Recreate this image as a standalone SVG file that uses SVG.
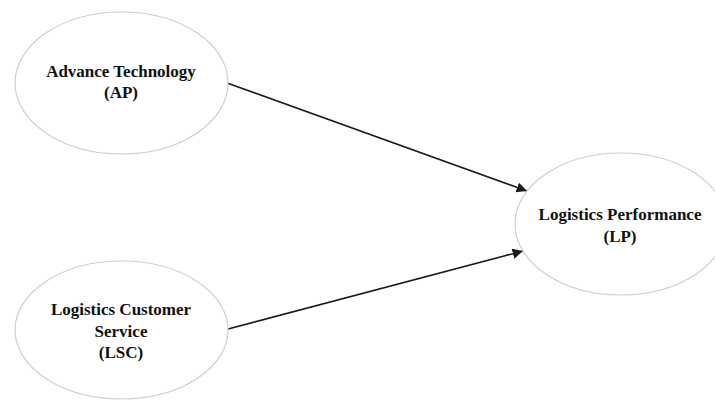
<svg xmlns="http://www.w3.org/2000/svg" width="715" height="400" viewBox="0 0 715 400">
<defs>
<style>
.node ellipse{fill:#fff;stroke:#cfcfcf;stroke-width:1.2}
.node text{font-family:"Liberation Serif","Times New Roman",serif;font-weight:bold;font-size:17px;fill:#111;text-anchor:middle}
.edge{stroke:#1a1a1a;stroke-width:1.6;fill:none;marker-end:url(#arr)}
</style>
<marker id="arr" viewBox="0 0 10 10" refX="10" refY="5" markerWidth="6.5" markerHeight="6.5" orient="auto" markerUnits="strokeWidth">
<path d="M0,0 L10,5 L0,10 Z" fill="#1a1a1a"/>
</marker>
</defs>
<rect width="715" height="400" fill="#fff"/>
<g id="connectors">
<line class="edge" x1="227" y1="83" x2="527" y2="191"/>
<line class="edge" x1="228" y1="329" x2="523" y2="251"/>
</g>
<g id="node-ap" class="node">
<ellipse cx="121.5" cy="83" rx="106.5" ry="71"/>
<text x="121" y="77">Advance Technology</text>
<text x="121" y="98">(AP)</text>
</g>
<g id="node-lsc" class="node">
<ellipse cx="121.5" cy="330" rx="106.5" ry="69"/>
<text x="121" y="315">Logistics Customer</text>
<text x="121" y="337">Service</text>
<text x="121" y="358">(LSC)</text>
</g>
<g id="node-lp" class="node">
<ellipse cx="621" cy="224" rx="106" ry="71"/>
<text x="620" y="220">Logistics Performance</text>
<text x="620" y="242">(LP)</text>
</g>
</svg>
